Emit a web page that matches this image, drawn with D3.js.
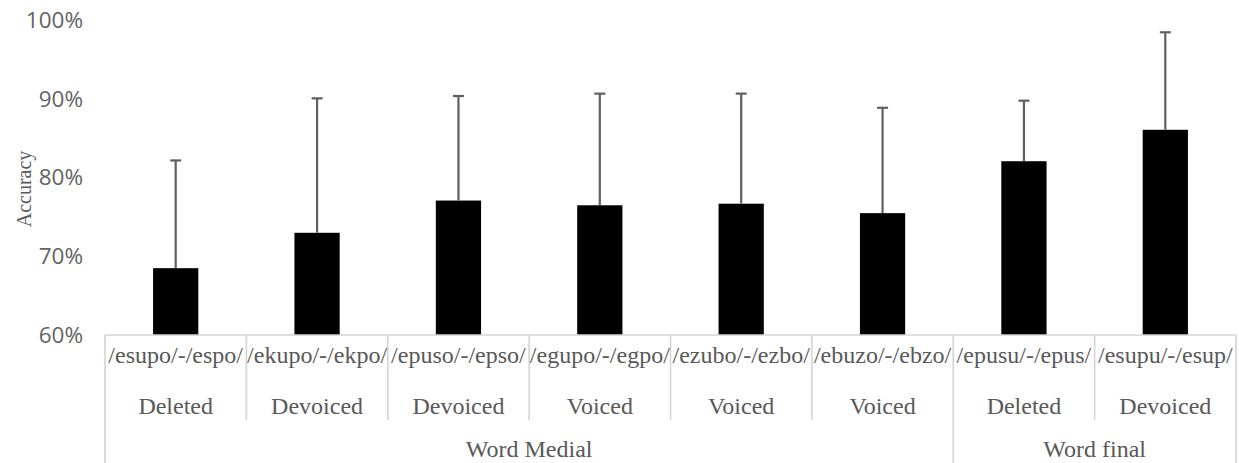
<!DOCTYPE html>
<html>
<head>
<meta charset="utf-8">
<script src="https://cdn.jsdelivr.net/npm/d3@7"></script>
<style>
  body { margin: 0; background: #fff; }
  svg { display: block; }
  .serif { font-family: "Liberation Serif", "Times New Roman", Times, serif; }
</style>
</head>
<body>
<svg id="chart"></svg>
<script>
// 数据
const phonemes = ['/esupo/-/espo/', '/ekupo/-/ekpo/', '/epuso/-/epso/', '/egupo/-/egpo/',
  '/ezubo/-/ezbo/', '/ebuzo/-/ebzo/', '/epusu/-/epus/', '/esupu/-/esup/'];
const conditions = ['Deleted', 'Devoiced', 'Devoiced', 'Voiced', 'Voiced', 'Voiced', 'Deleted', 'Devoiced'];
const positions = ['Word Medial', 'Word Medial', 'Word Medial', 'Word Medial',
  'Word Medial', 'Word Medial', 'Word final', 'Word final'];
const accuracy = [68.5, 73.0, 77.1, 76.5, 76.7, 75.5, 82.1, 86.1];
const errorTop = [82.2, 90.1, 90.4, 90.7, 90.7, 88.9, 89.8, 98.5];
const yTicks = [60, 70, 80, 90, 100];

const W = 1239, H = 463;
const plot = { left: 105, right: 1236, top: 20.5, bottom: 335 };
const textColor = '#595959';
const lineColor = '#d4d4d4';

const svg = d3.select('#chart').attr('width', W).attr('height', H);

// 比例尺
const idx = d3.range(phonemes.length);
const xBand = d3.scaleBand().domain(idx).range([plot.left, plot.right]);
const xBar = d3.scaleBand().domain(idx).range([plot.left, plot.right])
  .paddingInner(0.68).paddingOuter(0.34);
const yScale = d3.scaleLinear().domain([60, 100]).range([plot.bottom, plot.top]);

// Y轴
const yAxis = svg.append('g')
  .attr('transform', `translate(${plot.left},0)`)
  .call(d3.axisLeft(yScale).tickValues(yTicks).tickSize(0).tickPadding(22)
    .tickFormat(d => d + '%'));
yAxis.select('.domain').remove();
yAxis.selectAll('text')
  .attr('fill', '#636363')
  .style('font-family', '"Open Sans", sans-serif')
  .style('font-size', '22.5px');

// Y轴标签
svg.append('text')
  .attr('class', 'serif')
  .attr('transform', 'rotate(-90)')
  .attr('x', -189)
  .attr('y', 31)
  .attr('text-anchor', 'middle')
  .attr('fill', textColor)
  .style('font-size', '20px')
  .text('Accuracy');

// 柱状图
svg.selectAll('.bar')
  .data(idx)
  .enter()
  .append('rect')
  .attr('class', 'bar')
  .attr('x', i => xBar(i))
  .attr('width', xBar.bandwidth())
  .attr('y', i => yScale(accuracy[i]))
  .attr('height', i => yScale(60) - yScale(accuracy[i]))
  .attr('fill', '#000');

// 误差线
const err = svg.append('g').attr('stroke', '#5f5f5f').attr('stroke-width', 2.2);
idx.forEach(i => {
  const cx = xBar(i) + xBar.bandwidth() / 2;
  err.append('line')
    .attr('x1', cx).attr('x2', cx)
    .attr('y1', yScale(accuracy[i])).attr('y2', yScale(errorTop[i]));
  err.append('line')
    .attr('x1', cx - 5.5).attr('x2', cx + 5.5)
    .attr('y1', yScale(errorTop[i])).attr('y2', yScale(errorTop[i]));
});

// 分类表格线
const grid = svg.append('g').attr('stroke', lineColor).attr('stroke-width', 1.6);
grid.append('line')
  .attr('x1', plot.left).attr('x2', plot.right)
  .attr('y1', plot.bottom).attr('y2', plot.bottom);

// 分组
const groups = [];
positions.forEach((p, i) => {
  const g = groups[groups.length - 1];
  if (g && g.name === p) g.end = i;
  else groups.push({ name: p, start: i, end: i });
});

// 类别边界
d3.range(phonemes.length + 1).forEach(i => {
  const x = i < phonemes.length ? xBand(i) : plot.right;
  const isGroupEdge = i === 0 || i === phonemes.length || groups.some(g => g.start === i);
  grid.append('line')
    .attr('x1', x).attr('x2', x)
    .attr('y1', plot.bottom).attr('y2', isGroupEdge ? H : 420);
});

// 类别文字
svg.selectAll('.phoneme')
  .data(idx)
  .enter()
  .append('text')
  .attr('class', 'phoneme serif')
  .attr('x', i => xBand(i) + xBand.bandwidth() / 2)
  .attr('y', 363)
  .attr('text-anchor', 'middle')
  .attr('fill', textColor)
  .style('font-size', '24px')
  .text(i => phonemes[i]);

svg.selectAll('.condition')
  .data(idx)
  .enter()
  .append('text')
  .attr('class', 'condition serif')
  .attr('x', i => xBand(i) + xBand.bandwidth() / 2)
  .attr('y', 414)
  .attr('text-anchor', 'middle')
  .attr('fill', textColor)
  .style('font-size', '24px')
  .text(i => conditions[i]);

svg.selectAll('.group')
  .data(groups)
  .enter()
  .append('text')
  .attr('class', 'group serif')
  .attr('x', g => (xBand(g.start) + xBand(g.end) + xBand.bandwidth()) / 2)
  .attr('y', 457)
  .attr('text-anchor', 'middle')
  .attr('fill', textColor)
  .style('font-size', '24px')
  .text(g => g.name);
</script>
</body>
</html>
